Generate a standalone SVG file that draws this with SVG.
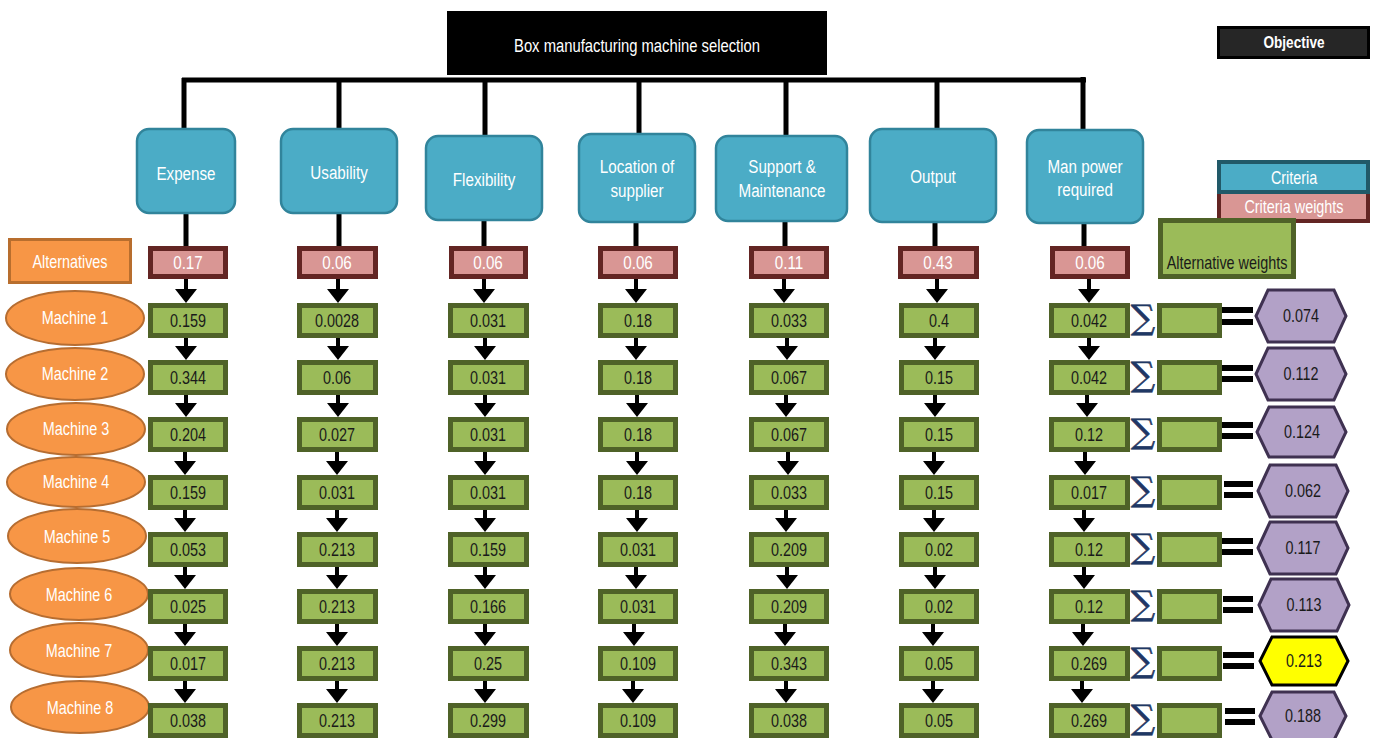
<svg xmlns="http://www.w3.org/2000/svg" width="1375" height="738" viewBox="0 0 1375 738">
<defs>
<style>
text{font-family:"Liberation Sans","Open Sans",Arial,sans-serif;text-anchor:middle;transform:scaleX(0.8);transform-box:fill-box;transform-origin:center}
.crit{fill:#4BACC6;stroke:#31849B;stroke-width:2.5}
.ct{fill:#fff;font-size:19px}
.w{fill:#D99694;stroke:#632523;stroke-width:5}
.wt{fill:#fff;font-size:19px}
.c{fill:#9BBB59;stroke:#4F6228;stroke-width:5}
.t{fill:#1a1a1a;font-size:18px}
.m{fill:#F79646;stroke:#B66D31;stroke-width:2}
.mt{fill:#fff;font-size:18px}
.hx{fill:#B2A1C7;stroke:#3F3151;stroke-width:3}
.sig{fill:#1F3864;stroke:#1F3864;stroke-width:0.6;font-size:34px;font-family:"DejaVu Serif","Liberation Serif",serif;transform:none}
.eq{fill:#000}
.ln{stroke:#000;stroke-width:5;fill:none}
.ar{stroke:#000;stroke-width:4;fill:none;marker-end:url(#ah)}
</style>
<marker id="ah" markerUnits="userSpaceOnUse" viewBox="0 -11 14 22" refX="0" refY="0" markerWidth="14" markerHeight="22" orient="auto">
<path d="M0,-11L14,0L0,11Z" fill="#000"/>
</marker>
</defs>
<rect width="1375" height="738" fill="#fff"/>

<g id="connectors">
<path class="ln" d="M182,80H1086"/>
<path class="ln" d="M184,78V129M339,78V129M485,78V136M639,78V134M786,78V136M937,78V129M1083,77V130"/>
<path class="ln" d="M186,213V246M339,213V246M484,220V246M636,222V246M785,221V246M935,222V246M1084,223V246"/>
<path class="ar" d="M186,279V289"/><path class="ar" d="M186,338V346"/><path class="ar" d="M186,395V403"/><path class="ar" d="M185,452V461"/><path class="ar" d="M185,510V518"/><path class="ar" d="M185,567V575"/><path class="ar" d="M185,624V632"/><path class="ar" d="M185,681V689"/>
<path class="ar" d="M338,279V289"/><path class="ar" d="M338,338V346"/><path class="ar" d="M338,395V403"/><path class="ar" d="M337,452V461"/><path class="ar" d="M337,510V518"/><path class="ar" d="M337,567V575"/><path class="ar" d="M337,624V632"/><path class="ar" d="M337,681V689"/>
<path class="ar" d="M484,279V289"/><path class="ar" d="M485,338V346"/><path class="ar" d="M485,395V403"/><path class="ar" d="M485,452V461"/><path class="ar" d="M485,510V518"/><path class="ar" d="M485,567V575"/><path class="ar" d="M485,624V632"/><path class="ar" d="M485,681V689"/>
<path class="ar" d="M636,279V289"/><path class="ar" d="M636,338V346"/><path class="ar" d="M637,395V403"/><path class="ar" d="M637,452V461"/><path class="ar" d="M637,510V518"/><path class="ar" d="M636,567V575"/><path class="ar" d="M634,624V632"/><path class="ar" d="M633,681V689"/>
<path class="ar" d="M784,279V289"/><path class="ar" d="M787,338V346"/><path class="ar" d="M786,395V403"/><path class="ar" d="M788,452V461"/><path class="ar" d="M786,510V518"/><path class="ar" d="M787,567V575"/><path class="ar" d="M785,624V632"/><path class="ar" d="M786,681V689"/>
<path class="ar" d="M937,279V289"/><path class="ar" d="M935,338V346"/><path class="ar" d="M935,395V403"/><path class="ar" d="M934,452V461"/><path class="ar" d="M934,510V518"/><path class="ar" d="M935,567V575"/><path class="ar" d="M933,624V632"/><path class="ar" d="M933,681V689"/>
<path class="ar" d="M1089,279V289"/><path class="ar" d="M1089,338V346"/><path class="ar" d="M1087,395V403"/><path class="ar" d="M1085,452V461"/><path class="ar" d="M1084,510V518"/><path class="ar" d="M1084,567V575"/><path class="ar" d="M1083,624V632"/><path class="ar" d="M1082,681V689"/>
</g>

<g id="goal">
<rect x="447" y="11" width="380" height="64" fill="#000"/>
<text x="637" y="52" fill="#fff" font-size="18.5px">Box manufacturing machine selection</text>
</g>

<g id="crit-expense"><rect class="crit" x="137" y="129" width="98" height="84" rx="12"/><text class="ct" x="186" y="180">Expense</text></g>
<g id="crit-usability"><rect class="crit" x="281" y="129" width="116" height="84" rx="12"/><text class="ct" x="339" y="179">Usability</text></g>
<g id="crit-flexibility"><rect class="crit" x="426" y="136" width="116" height="84" rx="12"/><text class="ct" x="484" y="186">Flexibility</text></g>
<g id="crit-location"><rect class="crit" x="579" y="134" width="116" height="88" rx="12"/><text class="ct" x="637" y="173">Location of</text><text class="ct" x="637" y="197">supplier</text></g>
<g id="crit-support"><rect class="crit" x="716" y="136" width="131" height="85" rx="12"/><text class="ct" x="782" y="173">Support &amp;</text><text class="ct" x="782" y="197">Maintenance</text></g>
<g id="crit-output"><rect class="crit" x="870" y="129" width="126" height="93" rx="12"/><text class="ct" x="933" y="183">Output</text></g>
<g id="crit-manpower"><rect class="crit" x="1027" y="130" width="116" height="93" rx="12"/><text class="ct" x="1085" y="173">Man power</text><text class="ct" x="1085" y="196">required</text></g>

<g id="weights">
<rect class="w" x="150.5" y="248.5" width="75" height="28"/><text class="wt" x="188" y="269.5">0.17</text>
<rect class="w" x="299.5" y="248.5" width="76" height="28"/><text class="wt" x="337" y="269.5">0.06</text>
<rect class="w" x="451.5" y="248.5" width="74" height="28"/><text class="wt" x="488" y="269.5">0.06</text>
<rect class="w" x="600.5" y="248.5" width="75" height="28"/><text class="wt" x="638" y="269.5">0.06</text>
<rect class="w" x="751.5" y="248.5" width="75" height="28"/><text class="wt" x="789" y="269.5">0.11</text>
<rect class="w" x="900.5" y="248.5" width="76" height="28"/><text class="wt" x="938" y="269.5">0.43</text>
<rect class="w" x="1052.5" y="248.5" width="75" height="28"/><text class="wt" x="1090" y="269.5">0.06</text>
</g>

<g id="alternatives"><rect x="9.5" y="239.5" width="121" height="43" fill="#F79646" stroke="#B86E2E" stroke-width="3"/><text class="mt" x="70" y="268" font-size="18.5px">Alternatives</text></g>

<g id="machine-1"><ellipse class="m" cx="75" cy="318" rx="69" ry="27"/><text class="mt" x="75" y="324">Machine 1</text></g>
<g id="machine-2"><ellipse class="m" cx="75" cy="374" rx="69" ry="26"/><text class="mt" x="75" y="380">Machine 2</text></g>
<g id="machine-3"><ellipse class="m" cx="76" cy="429" rx="69" ry="26"/><text class="mt" x="76" y="435">Machine 3</text></g>
<g id="machine-4"><ellipse class="m" cx="76" cy="482" rx="69" ry="25"/><text class="mt" x="76" y="488">Machine 4</text></g>
<g id="machine-5"><ellipse class="m" cx="77" cy="536" rx="69" ry="27"/><text class="mt" x="77" y="543">Machine 5</text></g>
<g id="machine-6"><ellipse class="m" cx="79" cy="594" rx="69" ry="26"/><text class="mt" x="79" y="601">Machine 6</text></g>
<g id="machine-7"><ellipse class="m" cx="79" cy="650" rx="69" ry="27"/><text class="mt" x="79" y="657">Machine 7</text></g>
<g id="machine-8"><ellipse class="m" cx="80" cy="707" rx="69" ry="26"/><text class="mt" x="80" y="714">Machine 8</text></g>

<g id="col-expense">
<rect class="c" x="150.5" y="305.5" width="75" height="30"/><text class="t" x="188" y="327">0.159</text>
<rect class="c" x="150.5" y="362.5" width="75" height="30"/><text class="t" x="188" y="384">0.344</text>
<rect class="c" x="150.5" y="419.5" width="75" height="30"/><text class="t" x="188" y="441">0.204</text>
<rect class="c" x="150.5" y="477.5" width="75" height="30"/><text class="t" x="188" y="499">0.159</text>
<rect class="c" x="150.5" y="534.5" width="75" height="30"/><text class="t" x="188" y="556">0.053</text>
<rect class="c" x="150.5" y="591.5" width="75" height="30"/><text class="t" x="188" y="613">0.025</text>
<rect class="c" x="150.5" y="648.5" width="75" height="30"/><text class="t" x="188" y="670">0.017</text>
<rect class="c" x="150.5" y="705.5" width="75" height="30"/><text class="t" x="188" y="727">0.038</text>
</g>
<g id="col-usability">
<rect class="c" x="299.5" y="305.5" width="76" height="30"/><text class="t" x="337" y="327">0.0028</text>
<rect class="c" x="299.5" y="362.5" width="76" height="30"/><text class="t" x="337" y="384">0.06</text>
<rect class="c" x="299.5" y="419.5" width="76" height="30"/><text class="t" x="337" y="441">0.027</text>
<rect class="c" x="299.5" y="477.5" width="76" height="30"/><text class="t" x="337" y="499">0.031</text>
<rect class="c" x="299.5" y="534.5" width="76" height="30"/><text class="t" x="337" y="556">0.213</text>
<rect class="c" x="299.5" y="591.5" width="76" height="30"/><text class="t" x="337" y="613">0.213</text>
<rect class="c" x="299.5" y="648.5" width="76" height="30"/><text class="t" x="337" y="670">0.213</text>
<rect class="c" x="299.5" y="705.5" width="76" height="30"/><text class="t" x="337" y="727">0.213</text>
</g>
<g id="col-flexibility">
<rect class="c" x="450.5" y="305.5" width="76" height="30"/><text class="t" x="488" y="327">0.031</text>
<rect class="c" x="450.5" y="362.5" width="76" height="30"/><text class="t" x="488" y="384">0.031</text>
<rect class="c" x="450.5" y="419.5" width="76" height="30"/><text class="t" x="488" y="441">0.031</text>
<rect class="c" x="450.5" y="477.5" width="76" height="30"/><text class="t" x="488" y="499">0.031</text>
<rect class="c" x="450.5" y="534.5" width="76" height="30"/><text class="t" x="488" y="556">0.159</text>
<rect class="c" x="450.5" y="591.5" width="76" height="30"/><text class="t" x="488" y="613">0.166</text>
<rect class="c" x="450.5" y="648.5" width="76" height="30"/><text class="t" x="488" y="670">0.25</text>
<rect class="c" x="450.5" y="705.5" width="76" height="30"/><text class="t" x="488" y="727">0.299</text>
</g>
<g id="col-location">
<rect class="c" x="600.5" y="305.5" width="75" height="30"/><text class="t" x="638" y="327">0.18</text>
<rect class="c" x="600.5" y="362.5" width="75" height="30"/><text class="t" x="638" y="384">0.18</text>
<rect class="c" x="600.5" y="419.5" width="75" height="30"/><text class="t" x="638" y="441">0.18</text>
<rect class="c" x="600.5" y="477.5" width="75" height="30"/><text class="t" x="638" y="499">0.18</text>
<rect class="c" x="600.5" y="534.5" width="75" height="30"/><text class="t" x="638" y="556">0.031</text>
<rect class="c" x="600.5" y="591.5" width="75" height="30"/><text class="t" x="638" y="613">0.031</text>
<rect class="c" x="600.5" y="648.5" width="75" height="30"/><text class="t" x="638" y="670">0.109</text>
<rect class="c" x="600.5" y="705.5" width="75" height="30"/><text class="t" x="638" y="727">0.109</text>
</g>
<g id="col-support">
<rect class="c" x="751.5" y="305.5" width="75" height="30"/><text class="t" x="789" y="327">0.033</text>
<rect class="c" x="751.5" y="362.5" width="75" height="30"/><text class="t" x="789" y="384">0.067</text>
<rect class="c" x="751.5" y="419.5" width="75" height="30"/><text class="t" x="789" y="441">0.067</text>
<rect class="c" x="751.5" y="477.5" width="75" height="30"/><text class="t" x="789" y="499">0.033</text>
<rect class="c" x="751.5" y="534.5" width="75" height="30"/><text class="t" x="789" y="556">0.209</text>
<rect class="c" x="751.5" y="591.5" width="75" height="30"/><text class="t" x="789" y="613">0.209</text>
<rect class="c" x="751.5" y="648.5" width="75" height="30"/><text class="t" x="789" y="670">0.343</text>
<rect class="c" x="751.5" y="705.5" width="75" height="30"/><text class="t" x="789" y="727">0.038</text>
</g>
<g id="col-output">
<rect class="c" x="901.5" y="305.5" width="75" height="30"/><text class="t" x="939" y="327">0.4</text>
<rect class="c" x="901.5" y="362.5" width="75" height="30"/><text class="t" x="939" y="384">0.15</text>
<rect class="c" x="901.5" y="419.5" width="75" height="30"/><text class="t" x="939" y="441">0.15</text>
<rect class="c" x="901.5" y="477.5" width="75" height="30"/><text class="t" x="939" y="499">0.15</text>
<rect class="c" x="901.5" y="534.5" width="75" height="30"/><text class="t" x="939" y="556">0.02</text>
<rect class="c" x="901.5" y="591.5" width="75" height="30"/><text class="t" x="939" y="613">0.02</text>
<rect class="c" x="901.5" y="648.5" width="75" height="30"/><text class="t" x="939" y="670">0.05</text>
<rect class="c" x="901.5" y="705.5" width="75" height="30"/><text class="t" x="939" y="727">0.05</text>
</g>
<g id="col-manpower">
<rect class="c" x="1051.5" y="305.5" width="76" height="30"/><text class="t" x="1089" y="327">0.042</text>
<rect class="c" x="1051.5" y="362.5" width="76" height="30"/><text class="t" x="1089" y="384">0.042</text>
<rect class="c" x="1051.5" y="419.5" width="76" height="30"/><text class="t" x="1089" y="441">0.12</text>
<rect class="c" x="1051.5" y="477.5" width="76" height="30"/><text class="t" x="1089" y="499">0.017</text>
<rect class="c" x="1051.5" y="534.5" width="76" height="30"/><text class="t" x="1089" y="556">0.12</text>
<rect class="c" x="1051.5" y="591.5" width="76" height="30"/><text class="t" x="1089" y="613">0.12</text>
<rect class="c" x="1051.5" y="648.5" width="76" height="30"/><text class="t" x="1089" y="670">0.269</text>
<rect class="c" x="1051.5" y="705.5" width="76" height="30"/><text class="t" x="1089" y="727">0.269</text>
</g>

<g id="sums">
<text class="sig" x="1143" y="329">∑</text><rect class="c" x="1159.5" y="305.5" width="60" height="30"/><rect class="eq" x="1222" y="307" width="31" height="6"/><rect class="eq" x="1222" y="319" width="31" height="6"/>
<text class="sig" x="1143" y="386">∑</text><rect class="c" x="1159.5" y="362.5" width="60" height="30"/><rect class="eq" x="1222" y="365" width="31" height="6"/><rect class="eq" x="1222" y="376" width="31" height="6"/>
<text class="sig" x="1143" y="443">∑</text><rect class="c" x="1159.5" y="419.5" width="60" height="30"/><rect class="eq" x="1222" y="422" width="31" height="6"/><rect class="eq" x="1222" y="433" width="31" height="6"/>
<text class="sig" x="1143" y="501">∑</text><rect class="c" x="1159.5" y="477.5" width="60" height="30"/><rect class="eq" x="1224" y="481" width="29" height="6"/><rect class="eq" x="1224" y="492" width="29" height="6"/>
<text class="sig" x="1143" y="558">∑</text><rect class="c" x="1159.5" y="534.5" width="60" height="30"/><rect class="eq" x="1222" y="538" width="31" height="6"/><rect class="eq" x="1222" y="549" width="31" height="6"/>
<text class="sig" x="1143" y="615">∑</text><rect class="c" x="1159.5" y="591.5" width="60" height="30"/><rect class="eq" x="1223" y="596" width="30" height="6"/><rect class="eq" x="1223" y="607" width="30" height="6"/>
<text class="sig" x="1143" y="672">∑</text><rect class="c" x="1159.5" y="648.5" width="60" height="30"/><rect class="eq" x="1223" y="652" width="31" height="6"/><rect class="eq" x="1223" y="663" width="31" height="6"/>
<text class="sig" x="1143" y="729">∑</text><rect class="c" x="1159.5" y="705.5" width="60" height="30"/><rect class="eq" x="1225" y="708" width="30" height="6"/><rect class="eq" x="1225" y="719" width="30" height="6"/>
</g>

<g id="result-1"><polygon class="hx" points="1256,316 1268,290 1334,290 1346,316 1334,342 1268,342"/><text class="t" x="1301" y="322.5">0.074</text></g>
<g id="result-2"><polygon class="hx" points="1256,374 1268,348 1334,348 1346,374 1334,400 1268,400"/><text class="t" x="1301" y="380.5">0.112</text></g>
<g id="result-3"><polygon class="hx" points="1257,432 1269,407 1334,407 1346,432 1334,457 1269,457"/><text class="t" x="1302" y="438.5">0.124</text></g>
<g id="result-4"><polygon class="hx" points="1258,491 1270,465 1336,465 1348,491 1336,517 1270,517"/><text class="t" x="1303" y="497.5">0.062</text></g>
<g id="result-5"><polygon class="hx" points="1258,548 1270,522 1336,522 1348,548 1336,574 1270,574"/><text class="t" x="1303" y="554.5">0.117</text></g>
<g id="result-6"><polygon class="hx" points="1259,605 1271,579 1337,579 1349,605 1337,631 1271,631"/><text class="t" x="1304" y="611.5">0.113</text></g>
<g id="result-7"><polygon points="1260,661 1272,637 1336,637 1348,661 1336,685 1272,685" fill="#FFFF00" stroke="#000" stroke-width="3"/><text class="t" x="1304" y="667.5">0.213</text></g>
<g id="result-8"><polygon class="hx" points="1260,716 1272,692 1334,692 1346,716 1334,740 1272,740"/><text class="t" x="1303" y="722.5">0.188</text></g>

<g id="legend-objective"><rect x="1218.5" y="27.5" width="150" height="30" fill="#262626" stroke="#000" stroke-width="3"/><text x="1294" y="48" fill="#fff" font-size="17px" font-weight="bold">Objective</text></g>
<g id="legend-criteria">
<rect x="1219" y="190" width="149" height="31" fill="#D99694" stroke="#632523" stroke-width="4"/>
<rect x="1219" y="162" width="149" height="30" fill="#4BACC6" stroke="#215968" stroke-width="4"/>
<text x="1294" y="184" fill="#fff" font-size="18px">Criteria</text>
<text x="1294" y="213" fill="#fff" font-size="18px">Criteria weights</text>
</g>
<g id="legend-alternative-weights"><rect class="c" x="1160.5" y="220.5" width="133" height="56"/><text class="t" x="1227" y="269">Alternative weights</text></g>
</svg>
